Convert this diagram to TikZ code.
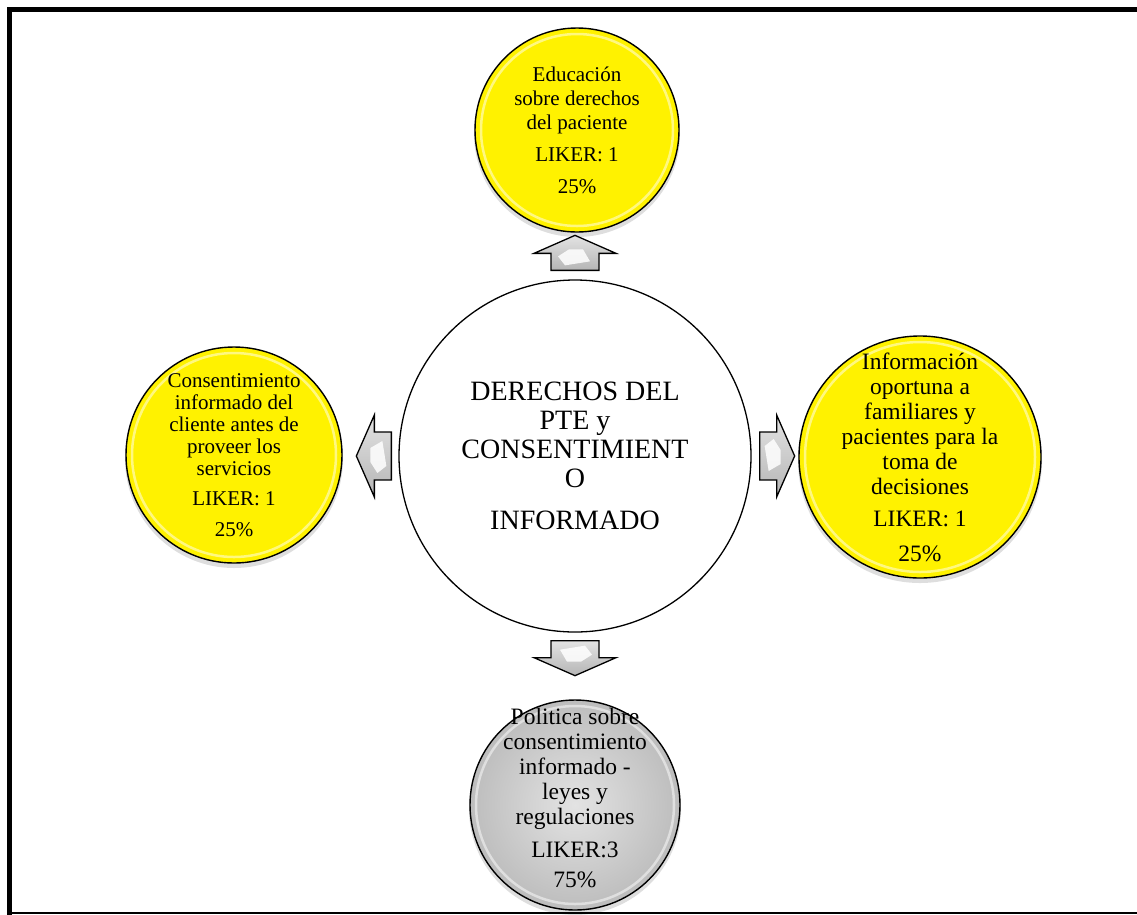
\documentclass[tikz,border=0pt]{standalone}
\usepackage{fontspec}
\setmainfont{Liberation Serif}
\usetikzlibrary{calc}

\tikzset{
  ball/.style={circle, draw=black, line width=1.4pt, inner sep=0pt},
  yellowball/.style={ball, fill=yellow},
  greyball/.style={ball, inner color=gray!22, outer color=gray!52},
  hub/.style={circle, draw=black, line width=1.3pt, fill=white, inner sep=0pt},
  caption/.style={align=center, inner sep=0pt, text=black},
  rim/.style={draw=white, line width=2.5pt, opacity=0.5},
  castshadow/.style={fill=black, opacity=0.13},
  frameline/.style={draw=black, line cap=rect},
  barrow/.pic={
    \path[draw=black, line width=1.3pt, line join=miter,
          top color=gray!22, bottom color=gray!58]
      (0,-24) -- (17,-24) -- (17,-41) -- (35,0) -- (17,41) -- (17,24) -- (0,24) -- cycle;
    \fill[white, opacity=0.85]
      (5,-10) -- (14,-17) -- (21,-6) -- (21,8) -- (9,15) -- cycle;
  }
}

\begin{document}
\begin{tikzpicture}[x=1pt, y=-1pt]
  \useasboundingbox (0,0) rectangle (1137,914);

  % outer frame
  \draw[frameline, line width=5pt] (1145,9.5) -- (9.5,9.5) -- (9.5,914);
  \draw[frameline, line width=2pt] (9.5,912.5) -- (1145,912.5);

  % circle centres
  \coordinate (hc) at (575,456);
  \coordinate (tc) at (577,130);
  \coordinate (lc) at (234,455);
  \coordinate (rc) at (920,457);
  \coordinate (bc) at (575,805);

  % soft shadows under the outer circles
  \fill[castshadow] ($(tc)+(0,4)$) circle[radius=103];
  \fill[castshadow] ($(lc)+(0,4)$) circle[radius=109];
  \fill[castshadow] ($(rc)+(0,4)$) circle[radius=122];
  \fill[castshadow] ($(bc)+(0,4)$) circle[radius=106];

  % central topic
  \node[hub, minimum size=352pt] (hub) at (hc) {};
  \node[caption, font=\fontsize{28}{29}\selectfont] (hubtext) at (hc)
    {DERECHOS DEL\\PTE y\\CONSENTIMIENT\\O\\[13pt]INFORMADO};

  % top item
  \node[yellowball, minimum size=204pt] (top) at (tc) {};
  \draw[rim] (tc) circle[radius=96];
  \node[caption, font=\fontsize{21}{24}\selectfont] (toptext) at (tc)
    {Educación\\sobre derechos\\del paciente\\[8pt]LIKER: 1\\[8pt]25\%};

  % left item
  \node[yellowball, minimum size=216pt] (left) at (lc) {};
  \draw[rim] (lc) circle[radius=102];
  \node[caption, font=\fontsize{21}{22}\selectfont] (lefttext) at (lc)
    {Consentimiento\\informado del\\cliente antes de\\proveer los\\servicios\\[8pt]LIKER: 1\\[9pt]25\%};

  % right item
  \node[yellowball, minimum size=242pt] (right) at (rc) {};
  \draw[rim] (rc) circle[radius=115];
  \node[caption, font=\fontsize{23.5}{25}\selectfont] (righttext) at (rc)
    {Información\\oportuna a\\familiares y\\pacientes para la\\toma de\\decisiones\\[7pt]LIKER: 1\\[10pt]25\%};

  % bottom item
  \node[greyball, minimum size=210pt] (bottom) at (bc) {};
  \draw[rim] (bc) circle[radius=99];
  \node[caption, font=\fontsize{23.5}{25}\selectfont] (bottomtext) at ($(bc)+(0,-7)$)
    {Politica sobre\\consentimiento\\informado -\\leyes y\\regulaciones\\[8pt]LIKER:3\\[5pt]75\%};

  % block arrows leaving the central topic
  \pic[rotate=90]  at ($(hub.north)+(0,-9)$) {barrow};
  \pic[rotate=-90] at ($(hub.south)+(0,8)$)  {barrow};
  \pic[rotate=180] at ($(hub.west)+(-7,0)$)  {barrow};
  \pic[rotate=0]   at ($(hub.east)+(8,0)$)   {barrow};
\end{tikzpicture}
\end{document}
